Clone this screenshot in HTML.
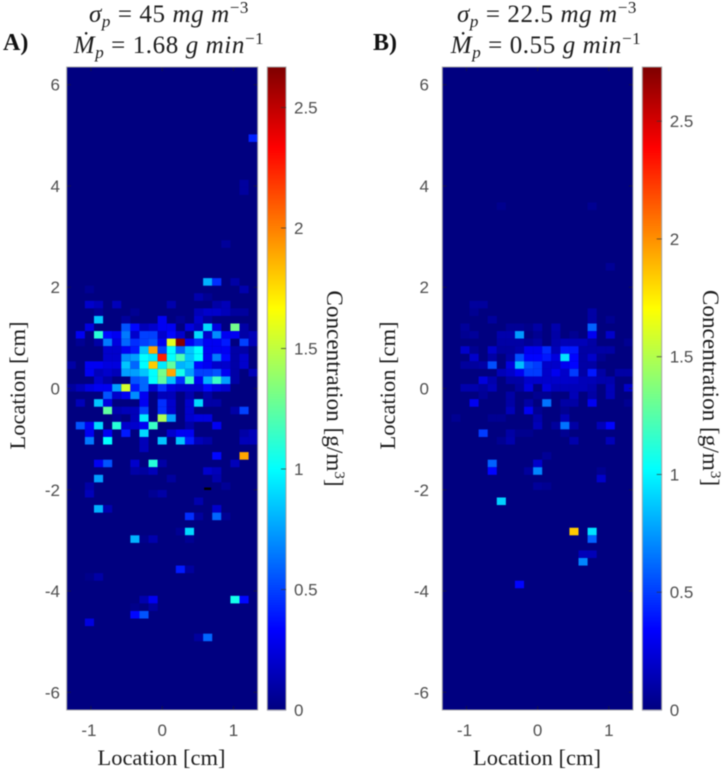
<!DOCTYPE html>
<html lang="en">
<head>
<meta charset="utf-8">
<title>Concentration heatmaps</title>
<style>
html,body{margin:0;padding:0;background:#fff;}
body{width:726px;height:773px;overflow:hidden;}
svg{display:block;filter:blur(0.5px);}
.tick{font-family:"Liberation Sans",sans-serif;font-size:17px;fill:#4f4f4f;}
.serif{font-family:"Liberation Serif",serif;fill:#1c1c1c;}
.lab{font-size:22.5px;}
.lab-wide{font-size:23.2px;}
.ttl{font-size:25px;letter-spacing:.6px;}
.ttl .i{font-style:italic;}
.panel{font-size:24px;font-weight:bold;fill:#111;}
</style>
</head>
<body>
<svg id="chart" xmlns="http://www.w3.org/2000/svg" width="726" height="773" viewBox="0 0 726 773">
  <rect width="726" height="773" fill="#fff"/>

  <text class="serif panel" x="3" y="50">A)</text>
  <text class="serif panel" x="373" y="50">B)</text>

  <text class="serif ttl" x="169" y="22" text-anchor="middle"><tspan class="i">σ</tspan><tspan class="i" font-size="17" dy="5">p</tspan><tspan dy="-5"> = 45 </tspan><tspan class="i">mg m</tspan><tspan font-size="17" dy="-9">−3</tspan></text>
  <text class="serif ttl" x="169" y="53" text-anchor="middle"><tspan class="i">Ṁ</tspan><tspan class="i" font-size="17" dy="5">p</tspan><tspan dy="-5"> = 1.68 </tspan><tspan class="i">g min</tspan><tspan font-size="17" dy="-9">−1</tspan></text>
  <text class="serif ttl" x="547" y="22" text-anchor="middle"><tspan class="i">σ</tspan><tspan class="i" font-size="17" dy="5">p</tspan><tspan dy="-5"> = 22.5 </tspan><tspan class="i">mg m</tspan><tspan font-size="17" dy="-9">−3</tspan></text>
  <text class="serif ttl" x="546" y="53" text-anchor="middle"><tspan class="i">Ṁ</tspan><tspan class="i" font-size="17" dy="5">p</tspan><tspan dy="-5"> = 0.55 </tspan><tspan class="i">g min</tspan><tspan font-size="17" dy="-9">−1</tspan></text>

  <g id="plots"></g>

  <text class="serif lab" x="161.5" y="765" text-anchor="middle">Location [cm]</text>
  <text class="serif lab" x="537" y="765" text-anchor="middle">Location [cm]</text>
  <text class="serif lab" transform="translate(25 385.5) rotate(-90)" text-anchor="middle">Location [cm]</text>
  <text class="serif lab" transform="translate(395 385.5) rotate(-90)" text-anchor="middle">Location [cm]</text>
  <text class="serif lab-wide" transform="translate(327 388.5) rotate(90)" text-anchor="middle">Concentration [g/m<tspan font-size="15" dy="-8">3</tspan><tspan dy="8">]</tspan></text>
  <text class="serif lab-wide" transform="translate(703 388) rotate(90)" text-anchor="middle">Concentration [g/m<tspan font-size="15" dy="-8">3</tspan><tspan dy="8">]</tspan></text>
</svg>
<script>
const xTicks = [-1, 0, 1];
const yTicks = [6, 4, 2, 0, -2, -4, -6];
const colorbarTicks = [0, 0.5, 1, 1.5, 2, 2.5];
const xLimit = 1.34;
const yLimit = 6.35;
const columnCount = 21;
const rowCount = 85;
const colorMaxA = 2.668;
const colorMaxB = 2.73;

// [row from top, column from left, concentration g/m^3]
const cellsA = [
[9,20,.42],[15,19,.08],[16,19,.08],[23,17,.07],
[28,15,.8],[28,16,.45],[28,18,.1],[29,2,.05],[29,19,.12],[30,14,.12],[30,15,.05],
[31,2,.2],[31,3,.15],[31,5,.15],[31,11,.12],[31,16,.1],[31,17,.15],
[32,3,.05],[32,7,.05],[32,14,.15],[32,15,.2],[32,16,.2],[32,17,.15],[32,18,.08],[32,19,.08],
[33,3,.85],[33,6,.08],[33,10,.3],[33,12,.05],[33,14,.2],[33,15,.08],
[34,2,.25],[34,6,.55],[34,7,.35],[34,8,.15],[34,9,.2],[34,10,.3],[34,11,.3],[34,13,.25],[34,14,.15],[34,15,.9],[34,16,.25],[34,18,1.3],[34,19,.1],
[35,1,.3],[35,3,1.1],[35,4,.35],[35,5,.3],[35,6,.65],[35,7,.2],[35,8,.5],[35,9,.5],[35,10,.2],[35,11,.35],[35,12,.2],[35,14,.9],[35,15,.2],[35,16,.7],[35,17,.3],[35,18,.3],[35,19,.1],[35,20,.15],
[36,1,.05],[36,3,.1],[36,4,.65],[36,5,.25],[36,6,.6],[36,7,.45],[36,8,.5],[36,9,.55],[36,10,.3],[36,11,1.6],[36,12,2.65],[36,13,.3],[36,14,.45],[36,15,.3],[36,16,.3],[36,17,.4],[36,19,.5],[36,20,.15],
[37,4,.2],[37,5,.2],[37,6,.3],[37,7,.4],[37,8,.85],[37,9,1.9],[37,10,.5],[37,11,1],[37,12,.6],[37,13,.85],[37,14,1],[37,15,.3],[37,16,.3],[37,17,.3],[37,18,.1],[37,19,.1],
[38,4,.2],[38,5,.2],[38,6,.7],[38,7,.75],[38,8,1],[38,9,.95],[38,10,2.25],[38,11,1],[38,12,1.2],[38,13,.85],[38,14,1],[38,15,.3],[38,16,.65],[38,17,.35],[38,18,.1],[38,19,.2],
[39,0,.1],[39,2,.3],[39,3,.3],[39,4,.25],[39,5,.25],[39,6,.85],[39,7,.6],[39,8,1],[39,9,1.8],[39,10,.95],[39,11,1.25],[39,12,.8],[39,13,.85],[39,14,.35],[39,15,.3],[39,16,.2],[39,17,.2],[39,18,.1],[39,19,.2],
[40,2,.3],[40,3,.15],[40,4,.2],[40,5,.15],[40,6,.75],[40,7,.75],[40,8,.85],[40,9,1],[40,10,1.3],[40,11,1.9],[40,12,1.05],[40,13,.75],[40,14,.5],[40,15,.5],[40,16,.55],[40,17,.3],[40,18,.1],[40,20,.15],
[41,3,.2],[41,4,.1],[41,7,.55],[41,8,.6],[41,9,1],[41,10,1.25],[41,11,.85],[41,12,.45],[41,13,1.15],[41,14,.3],[41,15,.8],[41,16,1.15],[41,17,.75],[41,18,.1],
[42,0,.08],[42,1,.15],[42,2,.25],[42,3,.3],[42,4,.3],[42,5,.75],[42,6,1.55],[42,7,.4],[42,8,.6],[42,9,.2],[42,10,.45],[42,11,.25],[42,12,.2],[42,13,.2],[42,14,.2],[42,15,.35],[42,16,.25],[42,17,.2],
[43,4,.55],[43,5,.2],[43,6,.3],[43,7,.7],[43,8,.3],[43,10,.15],[43,11,.15],[43,13,.12],[43,15,.1],
[44,1,.15],[44,3,.85],[44,4,.25],[44,8,.3],[44,10,.45],[44,11,.2],[44,13,.2],[44,14,.9],[44,15,.1],[44,16,.1],
[45,4,1.25],[45,5,.12],[45,6,.15],[45,7,.15],[45,8,.5],[45,10,.45],[45,11,.2],[45,13,.2],[45,18,.1],[45,19,.5],
[46,5,.05],[46,7,.15],[46,8,.95],[46,10,1.45],[46,11,.75],[46,13,.2],[46,14,.25],[46,15,.25],
[47,1,.55],[47,2,.3],[47,3,.9],[47,5,1.1],[47,6,.2],[47,7,.2],[47,8,.3],[47,9,1.15],[47,13,.1],[47,16,.3],
[48,2,.3],[48,4,.3],[48,6,.4],[48,8,.9],[48,11,.2],[48,12,.3],[48,13,.3],[48,19,.1],[48,20,.15],
[49,2,.65],[49,4,1],[49,8,.15],[49,10,.85],[49,12,.85],[49,13,.4],[49,14,.15],[49,15,.1],[49,19,.15],[49,20,.15],
[50,8,.15],[51,16,.35],[51,19,1.9],
[52,3,.3],[52,4,.55],[52,7,.2],[52,9,1.1],[52,10,.1],[52,18,.15],
[53,7,.1],[53,8,.08],[53,9,.15],[53,15,.2],[53,16,.15],
[54,3,.75],[54,11,.08],[54,16,.12],[55,2,.1],[55,17,.06],
[56,2,.15],[56,9,.05],[56,10,.1],[57,14,.12],
[58,3,.8],[58,4,.12],[58,16,.2],[59,13,.45],[59,14,.08],[59,16,.6],[59,17,.05],
[61,12,.05],[61,13,.9],[62,7,.8],[62,8,.03],[62,9,.12],[62,13,.05],
[66,12,.4],[66,13,.08],[67,2,.03],[67,3,.1],
[70,8,.12],[70,9,.3],[70,18,1.05],[70,19,.35],[71,7,.03],[71,9,.08],
[72,7,.35],[72,8,.55],[73,2,.25],[75,14,.08],[75,15,.6]
];

const cellsB = [
[18,6,.04],[18,16,.05],[26,18,.06],
[31,3,.08],[31,4,.08],[32,3,.05],[32,16,.1],[33,5,.08],[33,16,.1],[33,18,.05],
[34,2,.07],[34,7,.06],[34,8,.06],[34,9,.03],[34,10,.1],[34,12,.12],[34,16,.6],
[35,2,.05],[35,3,.07],[35,6,.12],[35,7,.12],[35,8,.75],[35,10,.05],[35,12,.1],[35,14,.05],[35,16,.3],[35,18,.2],
[36,6,.1],[36,7,.1],[36,8,.1],[36,9,.06],[36,10,.1],[36,12,.12],[36,13,.15],[36,14,.15],[36,15,.15],[36,16,.1],[36,20,.05],
[37,2,.2],[37,3,.05],[37,5,.2],[37,6,.08],[37,7,.08],[37,8,.12],[37,9,.3],[37,10,.3],[37,11,.45],[37,12,.15],[37,13,.4],[37,14,.4],[37,15,.1],[37,16,.1],[37,17,.1],[37,18,.1],
[38,3,.2],[38,5,.1],[38,7,.1],[38,8,.55],[38,9,.35],[38,10,.35],[38,11,.4],[38,12,.25],[38,13,.95],[38,14,.35],[38,15,.1],[38,16,.2],[38,17,.05],
[39,2,.08],[39,3,.08],[39,4,.1],[39,5,.55],[39,7,.25],[39,8,.85],[39,9,.55],[39,10,.5],[39,11,.2],[39,12,.2],[39,13,.3],[39,14,.35],[39,15,.1],[39,16,.1],
[40,6,.15],[40,7,.2],[40,8,.3],[40,9,.5],[40,10,.5],[40,11,.2],[40,12,.3],[40,13,.2],[40,14,.5],[40,15,.1],[40,16,.4],[40,17,.1],[40,19,.1],[40,20,.1],
[41,4,.25],[41,5,.12],[41,7,.1],[41,8,.1],[41,9,.2],[41,10,.2],[41,11,.2],[41,12,.2],[41,13,.2],[41,14,.2],[41,15,.15],[41,16,.15],[41,17,.12],[41,18,.12],
[42,2,.12],[42,3,.12],[42,4,.08],[42,5,.15],[42,8,.08],[42,9,.25],[42,11,.25],[42,12,.15],[42,13,.15],[42,14,.15],[42,15,.15],[42,16,.12],[42,18,.15],[42,20,.2],
[43,4,.06],[43,7,.1],[43,10,.05],[43,11,.05],[43,14,.15],[43,16,.1],[43,18,.15],
[44,3,.3],[44,7,.1],[44,9,.1],[44,11,.65],[44,13,.1],[44,14,.1],[44,16,.3],[44,20,.05],
[45,7,.15],[45,9,.3],[45,10,.05],[45,13,.05],
[46,1,.05],[46,5,.05],[46,6,.05],[46,10,.12],[46,13,.15],
[47,10,.15],[47,12,.08],[47,13,.65],[47,14,.1],[47,17,.15],[47,18,.35],
[48,4,.5],[48,7,.1],[48,8,.04],[48,9,.04],[48,13,.05],
[49,6,.05],[49,7,.12],[49,14,.12],[49,18,.15],[51,11,.06],
[52,5,.6],[52,10,.2],[53,5,.35],[53,9,.08],[53,10,.7],[53,17,.05],[54,17,.2],[55,10,.07],[55,11,.05],
[57,6,.9],[61,14,1.85],[61,16,.95],[62,16,.6],[64,15,.15],[64,16,.15],[65,15,.7],[68,8,.35]
];

const NS = 'http://www.w3.org/2000/svg';
const root = document.getElementById('plots');

function jet(t) {
  t = Math.max(0, Math.min(1, t));
  const ramp = (c) => Math.max(0, Math.min(1, 1.5 - Math.abs(4 * t - c)));
  const to = (v) => Math.round(v * 255);
  return 'rgb(' + to(ramp(3)) + ',' + to(ramp(2)) + ',' + to(ramp(1)) + ')';
}

function add(parent, tag, attrs) {
  const el = document.createElementNS(NS, tag);
  for (const k in attrs) el.setAttribute(k, attrs[k]);
  parent.appendChild(el);
  return el;
}

function drawPanel(prefix, plotLeft, plotRight, barLeft, barRight, cells, colorMax, tickRight) {
  const top = 67, bottom = 710;
  const xScale = (v) => plotLeft + (v + xLimit) / (2 * xLimit) * (plotRight - plotLeft);
  const yScale = (v) => top + (yLimit - v) / (2 * yLimit) * (bottom - top);
  const colX = (c) => xScale(-xLimit + c * 2 * xLimit / columnCount);
  const rowY = (r) => yScale(yLimit - r * 2 * yLimit / rowCount) - 0.7;
  const barY = (v) => bottom - v / colorMax * (bottom - top);

  const g = add(root, 'g', {});
  
  

  const bg = add(g, 'rect', { x: plotLeft, y: top, width: plotRight - plotLeft, height: bottom - top, fill: jet(0) });
  
  

  cells.forEach(function (cell) {
    const r = cell[0], c = cell[1], v = cell[2];
    const rect = add(g, 'rect', {
      x: colX(c), y: rowY(r),
      width: colX(c + 1) - colX(c),
      height: rowY(r + 1) - rowY(r),
      fill: jet(v / colorMax)
    });
    
    
  });

  xTicks.forEach(function (v) {
    const x = xScale(v);
    const t1 = add(g, 'path', { d: 'M' + x + ' ' + bottom + 'v-4M' + x + ' ' + top + 'v4', stroke: '#222', 'stroke-width': 1, opacity: .6 });
    
    
    const lab = add(g, 'text', { x: x - (v < 0 ? 2 : 0), y: 736, 'text-anchor': 'middle', class: 'tick' });
    
    
    lab.textContent = String(v);
  });

  yTicks.forEach(function (v) {
    const y = yScale(v);
    const t1 = add(g, 'path', { d: 'M' + plotLeft + ' ' + y + 'h4M' + plotRight + ' ' + y + 'h-4', stroke: '#222', 'stroke-width': 1, opacity: .6 });
    
    
    const lab = add(g, 'text', { x: tickRight, y: y + 6, 'text-anchor': 'end', class: 'tick' });
    
    
    lab.textContent = String(v);
  });

  const frame = add(g, 'rect', { x: plotLeft, y: top, width: plotRight - plotLeft, height: bottom - top, fill: 'none', stroke: '#a8a8a8', 'stroke-width': 1 });
  
  

  const cb = add(g, 'g', {});
  
  
  const steps = 256;
  for (let i = 0; i < steps; i++) {
    const y0 = bottom - (i + 1) / steps * (bottom - top);
    const seg = add(cb, 'rect', { x: barLeft, y: y0, width: barRight - barLeft, height: (bottom - top) / steps + .6, fill: jet((i + .5) / steps) });
    
    
  }
  const cbFrame = add(cb, 'rect', { x: barLeft, y: top, width: barRight - barLeft, height: bottom - top, fill: 'none', stroke: '#a8a8a8', 'stroke-width': 1 });
  
  

  colorbarTicks.forEach(function (v) {
    const y = barY(v);
    if (v > 0) {
      const t = add(cb, 'path', { d: 'M' + barRight + ' ' + y + 'h-5', stroke: '#333', 'stroke-width': 1, opacity: .7 });
      
      
    }
    const lab = add(cb, 'text', { x: barRight + 8, y: y + 6, class: 'tick' });
    
    
    lab.textContent = String(v);
  });
  return { xScale, yScale, colX, rowY };
}

const panelA = drawPanel('panel-a', 66.7, 257.7, 267.3, 286, cellsA, colorMaxA, 60);
drawPanel('panel-b', 442.3, 633, 642.3, 661.7, cellsB, colorMaxB, 429);

const darkMark = add(root, 'rect', { x: panelA.colX(15) + 1, y: 487.5, width: 7, height: 2.5, fill: '#000' });


</script>
</body>
</html>
